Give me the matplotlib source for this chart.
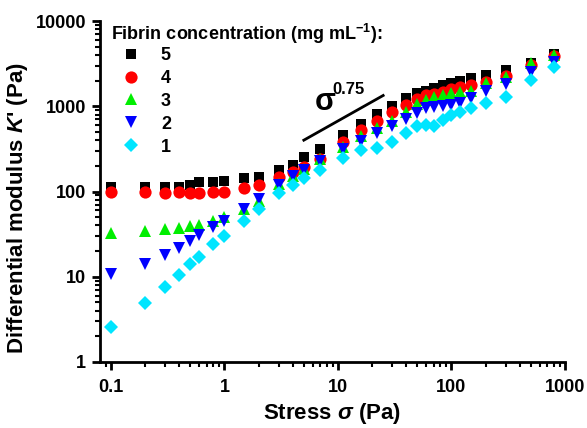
import matplotlib
matplotlib.use("Agg")
import matplotlib.pyplot as plt
from matplotlib.ticker import LogLocator, NullFormatter, FixedLocator, FixedFormatter

plt.rcParams['font.family'] = ['Liberation Sans', 'DejaVu Sans']
plt.rcParams['font.weight'] = 'bold'
plt.rcParams['mathtext.fontset'] = 'custom'
plt.rcParams['mathtext.rm'] = 'Liberation Sans:bold'
plt.rcParams['mathtext.it'] = 'Liberation Sans:italic:bold'
plt.rcParams['mathtext.bf'] = 'Liberation Sans:bold'

stress = [0.1, 0.2, 0.3, 0.4, 0.5, 0.6, 0.8, 1, 1.5, 2, 3, 4, 5, 7, 11, 16, 22, 30,
          40, 50, 60, 70, 85, 100, 120, 150, 200, 300, 500, 800]

k_5 = [114, 114, 113, 114, 119, 128, 130, 134, 143, 146, 179, 205, 256, 315, 465, 625,
       811, 1007, 1240, 1420, 1510, 1650, 1775, 1880, 1970, 2150, 2350, 2660, 3190, 4100]
k_4 = [98, 98, 97, 98, 95, 95, 98, 100, 111, 119, 147, 171, 195, 240, 380, 530,
       675, 849, 1035, 1220, 1345, 1410, 1482, 1580, 1667, 1775, 1950, 2264, 3048, 3890]
k_3 = [33, 34.4, 36, 37, 39, 40.5, 45, 50.6, 63, 77, 122, 152, 182, 238, 330, 448,
       551, 670, 863, 1060, 1180, 1270, 1370, 1443, 1460, 1520, 1860, 2222, 3190, 3990]
k_2 = [10.8, 14.1, 18, 21.9, 26.5, 31, 38.6, 45, 63, 81, 119, 150, 180, 228, 315, 392,
       486, 590, 712, 826, 946, 988, 1020, 1045, 1101, 1250, 1500, 1823, 2542, 3330]
k_1 = [2.6, 4.9, 7.5, 10.5, 14, 17.2, 24, 30.3, 45, 62, 95, 120, 143, 180, 250, 307,
       325, 380, 485, 580, 610, 590, 695, 789, 850, 955, 1083, 1295, 2030, 2910]

labels = ['5', '4', '3', '2', '1']
series = [k_5, k_4, k_3, k_2, k_1]
colors = ['#000000', '#ff0000', '#00ee00', '#0000ff', '#00e5ff']
markers = ['s', 'o', '^', 'v', 'D']
sizes = [7.8, 8.8, 9.2, 9.2, 7.2]

slope_x = [5, 25]
slope_y = [400, 400 * 5 ** 0.75]

xticks = [0.1, 1, 10, 100, 1000]
xticklabels = ['0.1', '1', '10', '100', '1000']
yticks = [1, 10, 100, 1000, 10000]
yticklabels = ['1', '10', '100', '1000', '10000']

fig = plt.figure(figsize=(5.87, 4.28), dpi=100)
ax = fig.add_axes([100 / 587, 1 - 362 / 428, 465 / 587, 341 / 428])

for lab, ys, c, m, s in zip(labels, series, colors, markers, sizes):
    ax.plot(stress, ys, linestyle='none', marker=m, color=c, markersize=s,
            markeredgewidth=0, label=lab)

ax.plot(slope_x, slope_y, color='black', linewidth=2)
ax.text(6.2, 903, 'σ', fontsize=22, fontweight='bold', ha='left', va='baseline')
ax.text(8.9, 1400, '0.75', fontsize=12, fontweight='bold', ha='left', va='baseline')

ax.set_xscale('log')
ax.set_yscale('log')
ax.set_xlim(10 ** (-1 - 11 / 113.6), 1000)
ax.set_ylim(1, 10000)

ax.xaxis.set_major_locator(FixedLocator(xticks))
ax.xaxis.set_major_formatter(FixedFormatter(xticklabels))
ax.yaxis.set_major_locator(FixedLocator(yticks))
ax.yaxis.set_major_formatter(FixedFormatter(yticklabels))
ax.xaxis.set_minor_locator(LogLocator(base=10, subs=range(2, 10), numticks=20))
ax.yaxis.set_minor_locator(LogLocator(base=10, subs=range(2, 10), numticks=20))
ax.xaxis.set_minor_formatter(NullFormatter())
ax.yaxis.set_minor_formatter(NullFormatter())

for sp in ['top', 'right']:
    ax.spines[sp].set_visible(False)
for sp in ['left', 'bottom']:
    ax.spines[sp].set_linewidth(2)

ax.tick_params(which='major', direction='out', length=6, width=2, labelsize=13, pad=4)
ax.tick_params(which='minor', direction='out', length=3.5, width=1.5)
ax.tick_params(axis='x', which='major', pad=6)
for t in ax.get_xticklabels() + ax.get_yticklabels():
    t.set_fontweight('bold')

fig.text(18 / 587, 1 - 208 / 428, "Differential modulus $K$' (Pa)", rotation=90,
         ha='center', va='center', fontsize=16, fontweight='bold')
fig.text(332 / 587, 1 - 414 / 428, r'Stress $\sigma$ (Pa)', ha='center', va='center',
         fontsize=16, fontweight='bold')

leg = ax.legend(loc='upper left', bbox_to_anchor=(4 / 465, 1.02), frameon=False,
                title='Fibrin concentration (mg mL$^{-1}$):', alignment='left',
                prop={'size': 13, 'weight': 'bold'}, handletextpad=0.55,
                labelspacing=0.33, handlelength=2.2, borderaxespad=0)
leg.get_title().set_fontsize(13)
leg.get_title().set_fontweight('bold')
leg._legend_box.sep = 1

fig.savefig('out.png', dpi=100)
